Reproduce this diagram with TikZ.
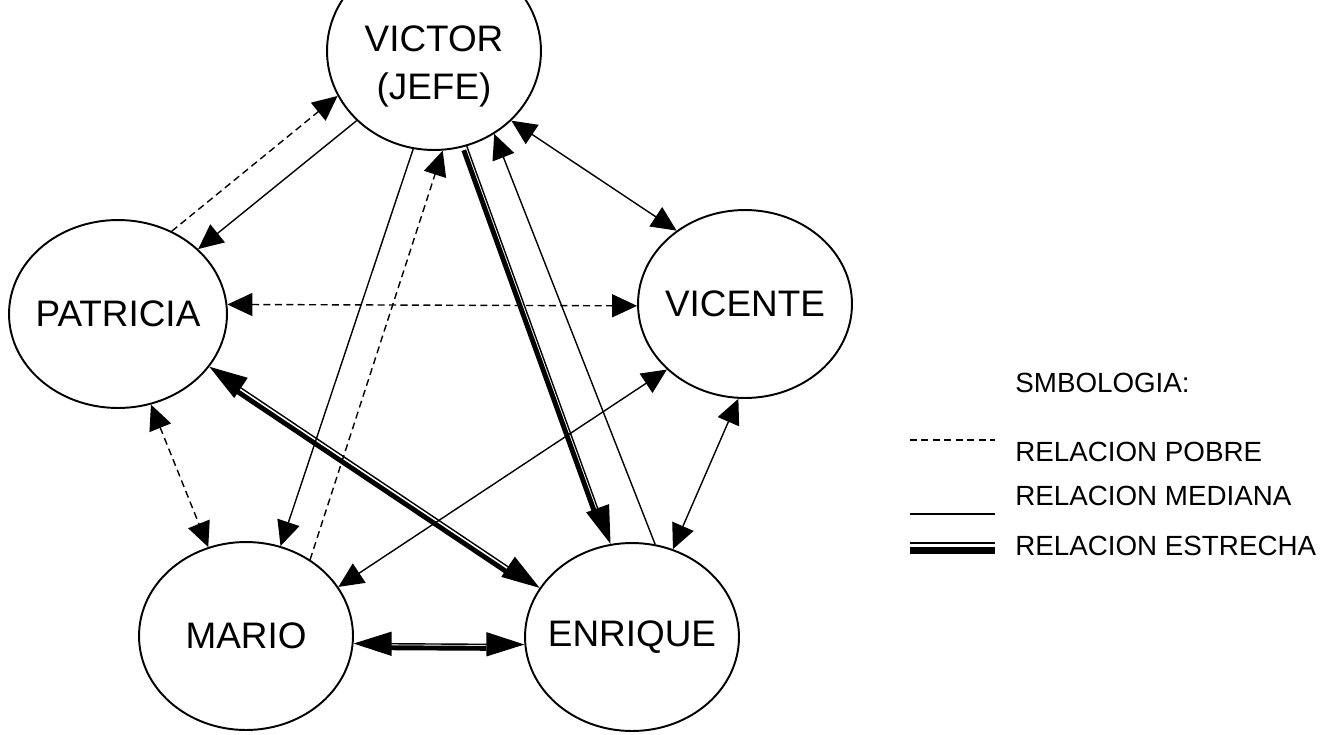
\documentclass[tikz,border=0pt]{standalone}
\usepackage{fontspec}
\setmainfont{Liberation Sans}
\usetikzlibrary{shapes.geometric, arrows.meta}
\newcommand{\nombre}[1]{\makebox[0pt]{#1}}

\begin{document}
\begin{tikzpicture}[x=0.02cm, y=-0.02cm,
    persona/.style={ellipse, draw, line width=1.1pt, inner sep=0pt,
        minimum width=4.28cm, minimum height=3.76cm,
        font=\fontsize{21}{27}\selectfont},
    leyenda/.style={anchor=west, inner sep=0pt, font=\fontsize{15.8}{19}\selectfont},
    pobre/.style={line width=0.8pt, dash pattern=on 4pt off 2.5pt},
    mediana/.style={line width=0.8pt},
    estrecha/.style={line width=0.8pt},
    grueso/.style={line width=2.8pt},
    tip/.style={-{Triangle[length=0.5cm, width=0.46cm]}},
    tips/.style={{Triangle[length=0.5cm, width=0.46cm]}-{Triangle[length=0.5cm, width=0.46cm]}},
    bigtip/.style={-{Triangle[length=0.76cm, width=0.48cm]}},
    bigtips/.style={{Triangle[length=0.76cm, width=0.48cm]}-{Triangle[length=0.76cm, width=0.48cm]}}]
    \useasboundingbox (0,0) rectangle (1328,734);

    % personas
    \node[persona, minimum height=3.96cm] (vic) at (434,51)
        {\nombre{\raisebox{-0.48cm}[0pt][0pt]{\begin{tabular}{@{}c@{}}VICTOR\\(JEFE)\end{tabular}}}};
    \node[persona, minimum width=4.36cm] (pat) at (118,314) {\nombre{PATRICIA}};
    \node[persona] (vce) at (745,304) {\nombre{VICENTE}};
    \node[persona] (mar) at (246,636) {\nombre{MARIO}};
    \node[persona] (enr) at (632,637) {\nombre{ENRIQUE}};

    % relaciones pobres
    \draw[pobre, tip] (pat.57) -- (vic.205);
    \draw[pobre, tips] (pat.5) -- (vce.181);
    \draw[pobre, tips] (pat.290) -- (mar.113);
    \draw[pobre, tip] (mar.50) -- (vic.275);

    % relaciones medianas
    \draw[mediana, tip] (vic.222) -- (pat.39);
    \draw[mediana, tip] (vic.258) -- (mar.69);
    \draw[mediana, tip] (enr.76) -- (vic.306);
    \draw[mediana, tips] (vic.318) -- (vce.133);
    \draw[mediana, tips] (vce.220) -- (mar.28);
    \draw[mediana, tips] (vce.266) -- (enr.65);

    % relaciones estrechas
    \draw[estrecha, bigtips] (pat.330) -- (enr.152);
    \draw[grueso, shorten <=0.7cm, shorten >=0.7cm]
        ([shift={(-3,4)}]pat.330) -- ([shift={(-3,4)}]enr.152);
    \draw[estrecha, bigtip] (vic.289) -- (enr.103);
    \draw[grueso, shorten >=0.7cm]
        ([shift={(-3,4)}]vic.289) -- ([shift={(-3,4)}]enr.103);
    \draw[estrecha, bigtips] (mar.356) -- (enr.184);
    \draw[grueso, shorten <=0.7cm, shorten >=0.7cm]
        ([shift={(-3,4)}]mar.356) -- ([shift={(-3,4)}]enr.184);

    % simbologia
    \node[leyenda] (simb) at (1015,383) {SMBOLOGIA:};
    \node[leyenda] (lpobre) at (1015,452) {RELACION POBRE};
    \node[leyenda] (lmed) at (1015,496) {RELACION MEDIANA};
    \node[leyenda] (lest) at (1015,546) {RELACION ESTRECHA};
    \draw[pobre] (910,440) -- (995,440);
    \draw[mediana] (910,514) -- (995,514);
    \draw[estrecha] (910,543) -- (995,543);
    \draw[line width=3.5pt] (910,550.5) -- (995,550.5);
\end{tikzpicture}
\end{document}
